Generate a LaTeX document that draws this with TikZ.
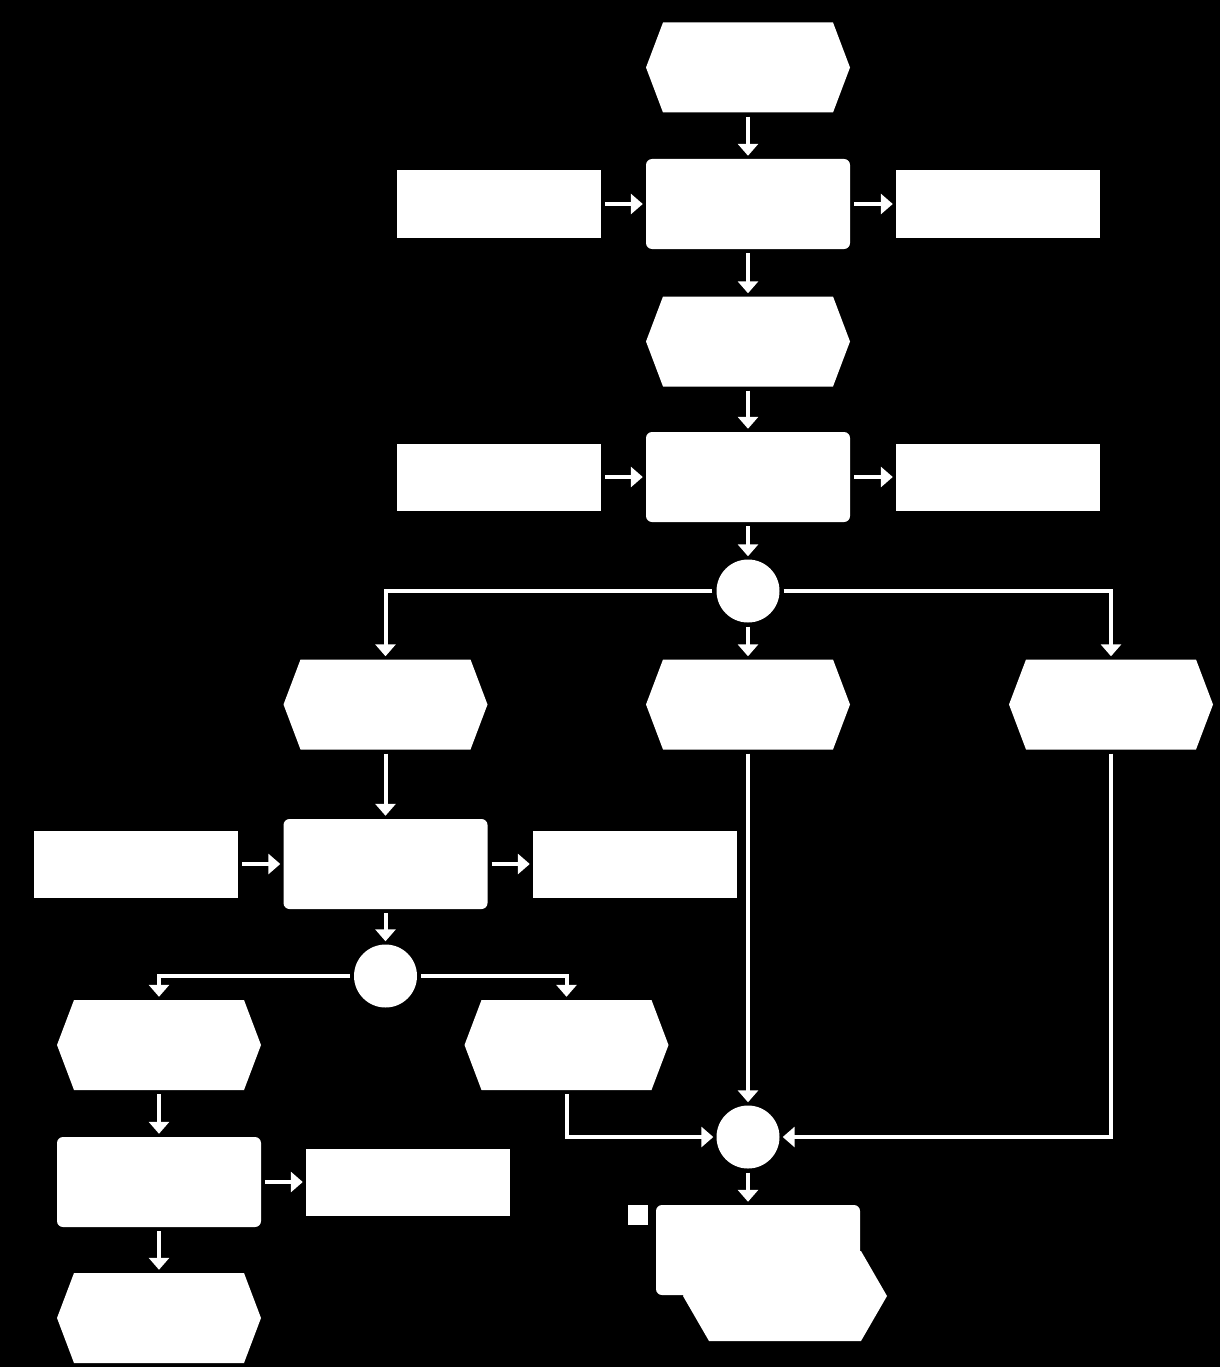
\documentclass[tikz,border=0pt]{standalone}
\usetikzlibrary{arrows.meta,shapes.geometric}
\tikzset{
  evt/.style={minimum width=204pt, minimum height=90pt, inner sep=0pt,
    path picture={\fill[white] ([xshift=17pt]path picture bounding box.north west) -- ([xshift=-17pt]path picture bounding box.north east) -- (path picture bounding box.east) -- ([xshift=-17pt]path picture bounding box.south east) -- ([xshift=17pt]path picture bounding box.south west) -- (path picture bounding box.west) -- cycle;}},
  evtwide/.style={minimum width=204pt, minimum height=90pt, inner sep=0pt,
    path picture={\fill[white] ([xshift=26pt]path picture bounding box.north west) -- ([xshift=-26pt]path picture bounding box.north east) -- (path picture bounding box.east) -- ([xshift=-26pt]path picture bounding box.south east) -- ([xshift=26pt]path picture bounding box.south west) -- (path picture bounding box.west) -- cycle;}},
  func/.style={rectangle, rounded corners=6pt, fill=white, minimum width=204pt, minimum height=90pt, inner sep=0pt},
  infobox/.style={rectangle, fill=white, minimum width=204pt, minimum height=67pt, inner sep=0pt},
  conn/.style={circle, fill=white, minimum size=63pt, inner sep=0pt},
  sqbox/.style={rectangle, fill=white, minimum size=20pt, inner sep=0pt},
  arr/.style={draw=white, line width=4pt, -{Triangle[width=20pt,length=12pt]}, shorten <=4pt, shorten >=3pt}
}
\begin{document}
\begin{tikzpicture}[x=1pt,y=-1pt]
\fill[black] (0,0) rectangle (1220,1367);
\useasboundingbox (0,0) rectangle (1220,1367);
% events
\node[evt] (e1) at (748,67.5) {};
\node[evt] (e2) at (748,341.5) {};
\node[evt] (e3) at (385.5,704.5) {};
\node[evt] (e4) at (748,704.5) {};
\node[evt] (e5) at (1111,704.5) {};
\node[evt] (e6) at (159,1045) {};
\node[evt] (e7) at (566.5,1045) {};
\node[evt] (e8) at (159,1318) {};
% functions
\node[func] (f1) at (748,204) {};
\node[func] (f2) at (748,477) {};
\node[func] (f3) at (385.5,864) {};
\node[func] (f4) at (159,1182) {};
% info boxes
\node[infobox] (lb1) at (499,204) {};
\node[infobox] (rb1) at (998,204) {};
\node[infobox] (lb2) at (499,477) {};
\node[infobox] (rb2) at (998,477) {};
\node[infobox] (lb3) at (136,864) {};
\node[infobox] (rb3) at (635,864) {};
\node[infobox] (rb4) at (408,1182) {};
% connectors
\node[conn] (c1) at (748,591) {};
\node[conn] (c2) at (385.5,976) {};
\node[conn] (c3) at (748,1137) {};
% final combined shape
\node[evtwide] (finhex) at (785,1296) {};
\node[func] (fin) at (758,1250) {};
\node[sqbox] (sq) at (638,1215) {};
% arrows
\draw[arr] (e1.south) -- (f1.north);
\draw[arr] (lb1.east) -- (f1.west);
\draw[arr] (f1.east) -- (rb1.west);
\draw[arr] (f1.south) -- (e2.north);
\draw[arr] (e2.south) -- (f2.north);
\draw[arr] (lb2.east) -- (f2.west);
\draw[arr] (f2.east) -- (rb2.west);
\draw[arr] (f2.south) -- (c1.north);
\draw[arr] (c1.west) -| (e3.north);
\draw[arr] (c1.south) -- (e4.north);
\draw[arr] (c1.east) -| (e5.north);
\draw[arr] (e3.south) -- (f3.north);
\draw[arr] (lb3.east) -- (f3.west);
\draw[arr] (f3.east) -- (rb3.west);
\draw[arr] (f3.south) -- (c2.north);
\draw[arr] (c2.west) -| (e6.north);
\draw[arr] (c2.east) -| (e7.north);
\draw[arr] (e6.south) -- (f4.north);
\draw[arr] (f4.east) -- (rb4.west);
\draw[arr] (f4.south) -- (e8.north);
\draw[arr] (e4.south) -- (c3.north);
\draw[arr] (e7.south) |- (c3.west);
\draw[arr] (e5.south) |- (c3.east);
\draw[arr] (c3.south) -- (c3.south |- fin.north);
\end{tikzpicture}
\end{document}
